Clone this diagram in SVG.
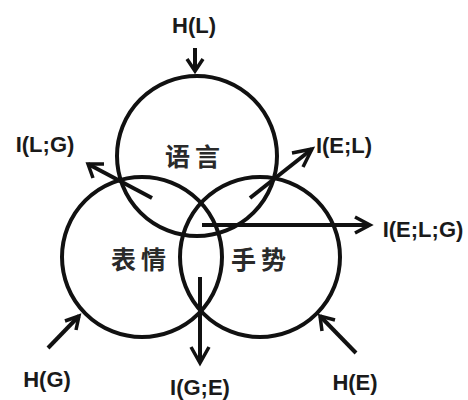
<svg xmlns="http://www.w3.org/2000/svg" width="468" height="400" viewBox="0 0 468 400">
<style>
.c{fill:none;stroke:#111;stroke-width:4}
.a{fill:none;stroke:#111;stroke-width:4;stroke-linecap:butt}
.h{fill:none;stroke:#111;stroke-width:3.5;stroke-linejoin:miter}
.t{font-family:"Liberation Sans",Arial,sans-serif;font-weight:bold;font-size:22px;fill:#1a1a1a}
.z{font-family:"Noto Sans CJK SC","Noto Sans",sans-serif;font-weight:bold;font-size:25px;fill:#2a2a2a;text-anchor:middle}
</style>
<rect width="468" height="400" fill="#fff"/>
<g id="node-language">
<circle class="c" cx="197" cy="156" r="80"/>
<text class="z" x="195" y="166" letter-spacing="5">语言</text>
</g>
<g id="node-expression">
<circle class="c" cx="142" cy="257" r="80"/>
<text class="z" x="141" y="269" letter-spacing="5">表情</text>
</g>
<g id="node-gesture">
<circle class="c" cx="260" cy="257" r="80"/>
<text class="z" x="261" y="269" letter-spacing="5">手势</text>
</g>
<g id="connectors">
<line class="a" x1="195" y1="48" x2="195" y2="71"/>
<polyline class="h" points="187,59 195,71 203,59"/>
<line class="a" x1="152" y1="198" x2="88" y2="164"/>
<polyline class="h" points="104,164 88,164 93,178"/>
<line class="a" x1="250" y1="198" x2="312" y2="149"/>
<polyline class="h" points="292,153 312,149 303,167"/>
<line class="a" x1="202" y1="225" x2="370" y2="225"/>
<polyline class="h" points="355,217 370,225 355,233"/>
<line class="a" x1="200" y1="277" x2="200" y2="363"/>
<polyline class="h" points="191,347 200,363 209,347"/>
<line class="a" x1="48" y1="348" x2="79" y2="316"/>
<polyline class="h" points="65,321 79,316 76,330"/>
<line class="a" x1="356" y1="353" x2="320" y2="316"/>
<polyline class="h" points="322,331 320,316 335,320"/>
</g>
<g id="labels">
<text class="t" x="194" y="33" text-anchor="middle">H(L)</text>
<text class="t" x="45" y="152" text-anchor="middle">I(L;G)</text>
<text class="t" x="344" y="153" text-anchor="middle">I(E;L)</text>
<text class="t" x="423" y="237" text-anchor="middle">I(E;L;G)</text>
<text class="t" x="200" y="395" text-anchor="middle">I(G;E)</text>
<text class="t" x="47" y="387" text-anchor="middle">H(G)</text>
<text class="t" x="355" y="390" text-anchor="middle">H(E)</text>
</g>
</svg>
